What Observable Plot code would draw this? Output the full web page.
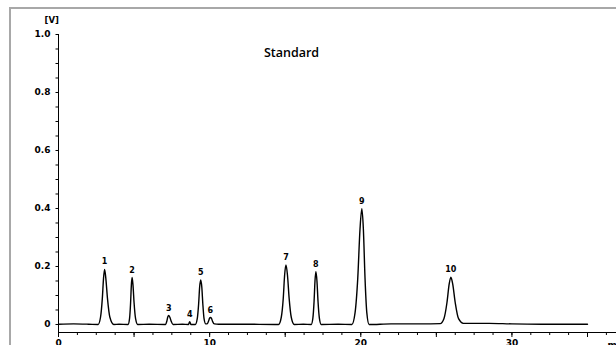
<!DOCTYPE html>
<html>
<head>
<meta charset="utf-8">
<script src="https://cdn.jsdelivr.net/npm/d3@7"></script>
<script src="https://cdn.jsdelivr.net/npm/@observablehq/plot@0.6"></script>
<style>
  html, body { margin: 0; padding: 0; background: #fff; }
  #chart { width: 616px; height: 345px; overflow: hidden; }
</style>
</head>
<body>
<div id="chart"></div>
<script>
// Chromatogram trace (time in min, signal in V)
const traceTime = [
  0, 1, 2, 2.62, 2.78, 2.9, 2.98, 3.05, 3.13, 3.24, 3.4, 3.66,
  4.0, 4.6, 4.7, 4.77, 4.82, 4.87, 4.93, 5.0, 5.1, 5.24,
  6.0, 7.07, 7.17, 7.23, 7.29, 7.36, 7.45, 7.58,
  8.2, 8.6, 8.68, 8.76,
  9.05, 9.18, 9.27, 9.34, 9.41, 9.48, 9.55, 9.63, 9.74,
  9.83, 9.93, 9.99, 10.05, 10.12, 10.2, 10.31, 10.6,
  12, 14.56, 14.74, 14.87, 14.96, 15.05, 15.15, 15.26, 15.4, 15.6,
  16.2, 16.72, 16.83, 16.91, 16.97, 17.03, 17.1, 17.17, 17.26, 17.38,
  18.5, 19.41, 19.62, 19.8, 19.95, 20.07, 20.17, 20.28, 20.4, 20.55,
  22, 24, 25.25, 25.5, 25.7, 25.85, 25.96, 26.08, 26.25, 26.47, 26.79,
  27.5, 28.5, 30, 32, 35
];
const traceSignal = [
  0.001, 0.002, 0.001, 0, 0.025, 0.09, 0.16, 0.19, 0.16, 0.09, 0.025, 0,
  0.001, 0, 0.02, 0.075, 0.135, 0.162, 0.135, 0.075, 0.02, 0,
  0.001, 0, 0.012, 0.026, 0.031, 0.026, 0.012, 0,
  0.001, 0, 0.01, 0,
  0, 0.02, 0.07, 0.13, 0.154, 0.13, 0.07, 0.02, 0.002,
  0.002, 0.012, 0.021, 0.024, 0.021, 0.01, 0.002, 0.001,
  0.001, 0, 0.025, 0.09, 0.17, 0.205, 0.17, 0.09, 0.025, 0,
  0.001, 0, 0.022, 0.08, 0.15, 0.182, 0.15, 0.08, 0.022, 0,
  0.001, 0, 0.04, 0.16, 0.33, 0.399, 0.33, 0.16, 0.04, 0,
  0.002, 0.002, 0.003, 0.02, 0.075, 0.14, 0.163, 0.14, 0.075, 0.02, 0.004,
  0.004, 0.004, 0.002, 0.001, 0.001
];

// Peak labels
const peakLabels  = ["1", "2", "3", "4", "5", "6", "7", "8", "9", "10"];
const peakTimes   = [3.05, 4.87, 7.29, 8.68, 9.41, 10.05, 15.05, 17.03, 20.07, 25.96];
const peakHeights = [0.19, 0.162, 0.031, 0.01, 0.154, 0.024, 0.205, 0.182, 0.399, 0.163];

// Axis ticks
const yTicks = [0, 0.2, 0.4, 0.6, 0.8, 1.0];
const yTickLabels = ["0", "0.2", "0.4", "0.6", "0.8", "1.0"];
const xTicks = [0, 10, 20, 30];
const xTickLabels = ["0", "10", "20", "30"];
const xMidTicks = [5, 15, 25, 35];

const yMin = -0.0276;
const font = "DejaVu Sans";
const idx = d3.range(traceTime.length);

const chart = Plot.plot({
  width: 616,
  height: 345,
  marginLeft: 58,
  marginRight: 29,
  marginTop: 34,
  marginBottom: 13,
  style: { fontFamily: font, background: "#fff", overflow: "visible" },
  x: { domain: [0, 35] },
  y: { domain: [yMin, 1.0] },
  marks: [
    // axis lines
    Plot.ruleY([yMin], { x1: 0, x2: 38, stroke: "#000", strokeWidth: 1.2 }),
    Plot.ruleX([0], { y1: yMin, y2: 1.0, stroke: "#000", strokeWidth: 1 }),
    // y axis
    Plot.axisY(yTicks, {
      tickSize: 5, tickPadding: 3,
      tickFormat: (d) => yTickLabels[yTicks.indexOf(d)],
      fontSize: 9, fontWeight: "bold", fontFamily: font, fill: "#000", stroke: null
    }),
    Plot.axisY(d3.range(0, 1.0001, 0.05), { tickSize: 2.5, text: null }),
    // x axis
    Plot.axisX(xTicks, {
      anchor: "bottom", tickSize: 5, tickPadding: 2,
      tickFormat: (d) => xTickLabels[xTicks.indexOf(d)],
      fontSize: 9, fontWeight: "bold", fontFamily: font, fill: "#000"
    }),
    Plot.axisX(xMidTicks, { anchor: "bottom", tickSize: 5, text: null }),
    Plot.axisX(d3.range(0, 37.6, 1.25), { anchor: "bottom", tickSize: 3, text: null }),
    // trace
    Plot.line(idx, {
      x: (i) => traceTime[i], y: (i) => traceSignal[i],
      curve: "monotone-x", stroke: "#000", strokeWidth: 1.4
    }),
    // peak labels
    Plot.text(peakLabels, {
      x: (d, i) => peakTimes[i], y: (d, i) => peakHeights[i],
      text: (d) => d, dy: -5, lineAnchor: "bottom",
      fontSize: 8, fontWeight: "bold", fontFamily: font, fill: "#000"
    }),
    // title and unit labels
    Plot.text(["Standard"], {
      frameAnchor: "top", dx: -31.5, dy: 18, lineAnchor: "middle",
      fontSize: 12.5, fontWeight: 600, fontFamily: "Open Sans", fill: "#000"
    }),
    Plot.text(["[V]"], {
      frameAnchor: "top-left", dx: -14, dy: -14, lineAnchor: "middle",
      fontSize: 8.5, fontWeight: "bold", fontFamily: font, fill: "#000"
    }),
    Plot.text(["min"], {
      frameAnchor: "bottom-right", dx: 20, dy: 9, textAnchor: "start", lineAnchor: "top",
      fontSize: 9, fontWeight: "bold", fontFamily: font, fill: "#000"
    })
  ]
});

document.getElementById("chart").appendChild(chart);

// outer frame (left and top edges of the figure box)
d3.select(chart).append("path")
  .attr("d", "M10,345V8H616")
  .attr("fill", "none")
  .attr("stroke", "#a8a8a8")
  .attr("stroke-width", 2);
</script>
</body>
</html>
